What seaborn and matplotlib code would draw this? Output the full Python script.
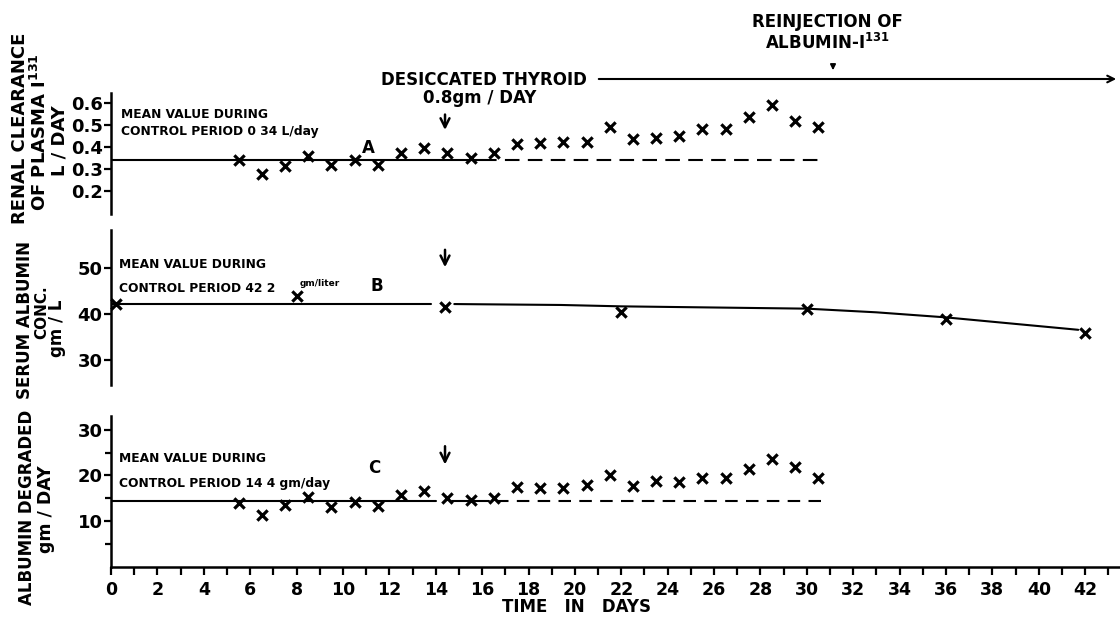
import matplotlib
matplotlib.use("Agg")
import matplotlib.pyplot as plt
import seaborn as sns

# ---------------- data ----------------
days = [5.5, 6.5, 7.5, 8.5, 9.5, 10.5, 11.5, 12.5, 13.5, 14.5, 15.5, 16.5, 17.5,
        18.5, 19.5, 20.5, 21.5, 22.5, 23.5, 24.5, 25.5, 26.5, 27.5, 28.5, 29.5, 30.5]
clearance = [0.34, 0.28, 0.315, 0.36, 0.32, 0.34, 0.32, 0.375, 0.395, 0.375, 0.35,
             0.375, 0.415, 0.42, 0.425, 0.425, 0.49, 0.435, 0.44, 0.45, 0.48, 0.48,
             0.535, 0.59, 0.52, 0.49]
degraded = [13.9, 11.4, 13.6, 15.3, 13.1, 14.3, 13.3, 15.8, 16.6, 15.1, 14.7, 15.1,
            17.4, 17.2, 17.3, 17.9, 20.2, 17.6, 18.7, 18.6, 19.5, 19.4, 21.5, 23.7,
            21.8, 19.5]
serum_days = [0.2, 8.0, 14.4, 22.0, 30.0, 36.0, 42.0]
serum_vals = [42.2, 44.0, 41.5, 40.5, 41.2, 38.9, 35.9]
serum_fit_days = [14.8, 19.4, 22.0, 26.0, 30.0, 33.0, 36.0, 41.7]
serum_fit_vals = [42.2, 42.0, 41.7, 41.45, 41.2, 40.4, 39.3, 36.6]
mean_clearance = 0.34
mean_serum = 42.2
mean_degraded = 14.4
x_major = list(range(0, 43, 2))
x_minor = list(range(0, 44, 1))

# ---------------- style ----------------
sns.set_theme(style="white")
plt.rcParams["font.family"] = ["DejaVu Sans"]
plt.rcParams["font.weight"] = "bold"
plt.rcParams["mathtext.default"] = "bf"

W, H = 1120, 617
fig = plt.figure(figsize=(W / 100, H / 100), dpi=100)


def axes_px(l, t, r, b):
    return fig.add_axes([l / W, 1 - b / H, (r - l) / W, (b - t) / H])


def fx(x):
    return x / W


def fy(y):
    return 1 - y / H


ax1 = axes_px(111, 93, 1120, 214)
ax2 = axes_px(111, 230, 1120, 385)
ax3 = axes_px(111, 416, 1120, 567)

for ax in (ax1, ax2, ax3):
    ax.set_xlim(0, 43.5)
    ax.patch.set_alpha(0)
    for s in ("top", "right"):
        ax.spines[s].set_visible(False)
    ax.spines["left"].set_linewidth(1.8)
    ax.spines["left"].set_color("black")
    ax.tick_params(axis="y", which="both", direction="out", length=5, width=1.6,
                   pad=1, labelsize=13, colors="black", left=True)
for ax in (ax1, ax2):
    ax.spines["bottom"].set_visible(False)
    ax.set_xticks([])

ax3.spines["bottom"].set_linewidth(1.8)
ax3.spines["bottom"].set_color("black")

ax1.set_ylim(0.097, 0.645)
ax1.set_yticks([0.2, 0.3, 0.4, 0.5, 0.6])
ax1.set_yticklabels(["0.2", "0.3", "0.4", "0.5", "0.6"])
ax2.set_ylim(24.6, 58.3)
ax2.set_yticks([30, 40, 50])
ax3.set_ylim(0, 33)
ax3.set_yticks([10, 20, 30])
ax3.set_yticks([5, 15, 25], minor=True)
ax3.set_xticks(x_major)
ax3.set_xticks(x_minor, minor=True)
ax3.tick_params(axis="x", which="both", direction="out", length=6, width=1.6,
                pad=4, labelsize=12.5, colors="black", bottom=True)
ax3.tick_params(axis="y", which="minor", length=4)

# ---------------- marks ----------------
mk = dict(marker="x", s=55, color="black", linewidth=2.3, legend=False, clip_on=False)
sns.scatterplot(x=days, y=clearance, ax=ax1, **mk)
sns.scatterplot(x=serum_days, y=serum_vals, ax=ax2, **mk)
sns.scatterplot(x=days, y=degraded, ax=ax3, **mk)

lk = dict(color="black", linewidth=1.5)
# panel A mean line
sns.lineplot(x=[0, 16.0], y=[mean_clearance] * 2, ax=ax1, **lk)
sns.lineplot(x=[16.0, 30.8], y=[mean_clearance] * 2, ax=ax1, linestyle=(0, (7, 4)), **lk)
# panel B mean + fitted curve
sns.lineplot(x=[0, 13.8], y=[mean_serum] * 2, ax=ax2, **lk)
sns.lineplot(x=serum_fit_days, y=serum_fit_vals, ax=ax2, **lk)
# panel C mean line
sns.lineplot(x=[0, 14.0], y=[mean_degraded] * 2, ax=ax3, **lk)
sns.lineplot(x=[14.7, 16.3], y=[mean_degraded] * 2, ax=ax3, **lk)
sns.lineplot(x=[16.6, 30.8], y=[mean_degraded] * 2, ax=ax3, linestyle=(0, (6, 4)), **lk)

# arrows at thyroid start
arr = dict(arrowstyle="->", lw=1.8, color="black", mutation_scale=16)
ax1.annotate("", xy=(14.4, 0.465), xytext=(14.4, 0.56), arrowprops=arr, annotation_clip=False)
ax2.annotate("", xy=(14.4, 49.6), xytext=(14.4, 54.6), arrowprops=arr, annotation_clip=False)
ax3.annotate("", xy=(14.4, 21.8), xytext=(14.4, 27.0), arrowprops=arr, annotation_clip=False)

# ---------------- texts ----------------
def t(x, y, s, size, **kw):
    kw.setdefault("ha", "left")
    kw.setdefault("va", "center")
    fig.text(fx(x), fy(y), s, fontsize=size, fontweight="bold", color="black", **kw)

t(121, 114, "MEAN VALUE DURING", 8.8)
t(121, 131, "CONTROL PERIOD 0 34 L/day", 8.8)
t(368, 148, "A", 12, ha="center")

t(119, 264, "MEAN VALUE DURING", 8.8)
t(119, 288, "CONTROL PERIOD 42 2", 8.8)
t(300, 284, "gm/liter", 6.5)
t(377, 286, "B", 12, ha="center")

t(119, 459, "MEAN VALUE DURING", 8.8)
t(119, 484, "CONTROL PERIOD 14 4 gm/day", 8.8)
t(374, 468, "C", 12, ha="center")

t(484, 80, "DESICCATED THYROID", 12, ha="center")
t(480, 98, "0.8gm / DAY", 12, ha="center")
t(827, 22, "REINJECTION OF", 12, ha="center")
t(827, 43, r"ALBUMIN-I$^{131}$", 12, ha="center")

fig.add_artist(matplotlib.patches.FancyArrowPatch(
    (fx(596), fy(79)), (fx(1119), fy(79)), transform=fig.transFigure,
    arrowstyle="->", lw=1.5, color="black", mutation_scale=12))
fig.add_artist(matplotlib.patches.FancyArrowPatch(
    (fx(833), fy(62)), (fx(833), fy(73)), transform=fig.transFigure,
    arrowstyle="-|>", lw=1.2, color="black", mutation_scale=8))

# y-axis labels
t(20, 128, "RENAL CLEARANCE", 13, ha="center", rotation=90)
t(40, 132, r"OF PLASMA I$^{131}$", 13, ha="center", rotation=90)
t(60, 141, "L / DAY", 13, ha="center", rotation=90)

t(25, 320, "SERUM ALBUMIN", 12, ha="center", rotation=90)
t(42, 312, "CONC.", 11, ha="center", rotation=90)
t(57, 328, "gm / L", 12, ha="center", rotation=90)

t(27, 507, "ALBUMIN DEGRADED", 12, ha="center", rotation=90)
t(46, 509, "gm / DAY", 12.5, ha="center", rotation=90)

t(576, 607, "TIME   IN   DAYS", 12, ha="center")

fig.savefig("out.png", dpi=100)
